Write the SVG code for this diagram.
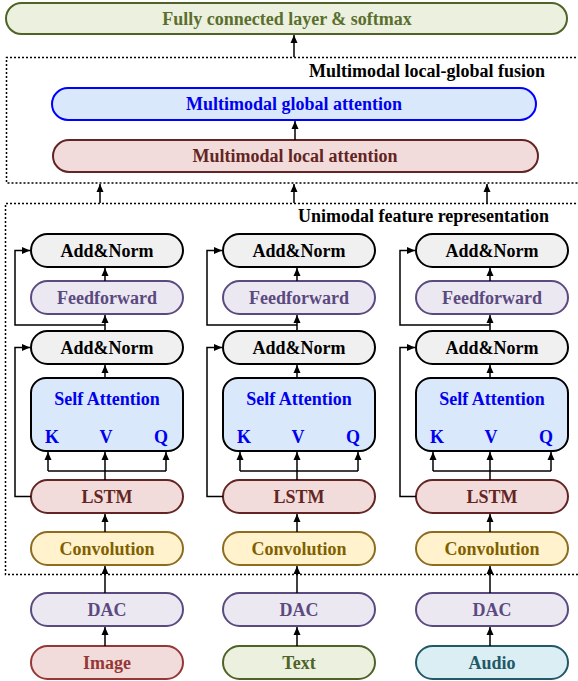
<svg xmlns="http://www.w3.org/2000/svg" width="578" height="681" viewBox="0 0 578 681">
<style>
text{font-family:"Liberation Serif","Times New Roman",serif;font-weight:bold;font-size:18px;text-anchor:middle}
.b{stroke-width:2}
.an{fill:#f0f0f0;stroke:#000}
.ff{fill:#ece8f1;stroke:#5a4a80}
.sa{fill:#dae8fc;stroke:#000}
.ls{fill:#f2dcdb;stroke:#632523}
.cv{fill:#fff2cc;stroke:#8c6d1f}
.im{fill:#f2dcdb;stroke:#953735}
.tx{fill:#ebf1de;stroke:#4f6228}
.au{fill:#daeef3;stroke:#215968}
.tan{fill:#000}.tff{fill:#5a4a80}.tsa{fill:#0000ee}.tls{fill:#632523}.tcv{fill:#7f6000}.tim{fill:#953735}.ttx{fill:#4f6228}.tau{fill:#215968}
.dot{fill:none;stroke:#000;stroke-width:1.5;stroke-dasharray:2 2}
.c{fill:none;stroke:#000;stroke-width:1.5}
.a{marker-end:url(#ah)}
</style>
<defs>
<marker id="ah" markerUnits="userSpaceOnUse" markerWidth="8" markerHeight="8" viewBox="0 0 8 8" refX="8" refY="4" orient="auto">
<path d="M0,0.5 L8,4 L0,7.5 z" fill="#000"/>
</marker>
</defs>

<g id="fusion-frame">
<path class="dot" d="M580,57.5 H6.5 V183 H580"/>
<text x="545" y="77" style="text-anchor:end" fill="#000">Multimodal local-global fusion</text>
</g>
<g id="unimodal-frame">
<path class="dot" d="M580,203.5 H5.5 V574.5 H580"/>
<text x="549" y="222" style="text-anchor:end" fill="#000">Unimodal feature representation</text>
</g>

<g id="fc">
<rect class="b tx" x="6" y="3" width="561" height="31" rx="15.5"/>
<text x="287" y="25" fill="#5b6e2e">Fully connected layer &amp; softmax</text>
</g>
<g id="global">
<rect class="b" x="52" y="88" width="484" height="32" rx="16" fill="#dae8fc" stroke="#0000ff"/>
<text x="294" y="110" fill="#0000ee">Multimodal global attention</text>
</g>
<g id="local">
<rect class="b ls" x="53" y="140" width="485" height="32" rx="16"/>
<text x="295" y="162" class="tls">Multimodal local attention</text>
</g>

<!-- Column 1 -->
<g id="c1-addnorm1"><rect class="b an" x="31" y="234" width="152" height="33" rx="16.5"/><text x="107" y="257" class="tan">Add&amp;Norm</text></g>
<g id="c1-ff"><rect class="b ff" x="31" y="281" width="152" height="33" rx="16.5"/><text x="107" y="304" class="tff">Feedforward</text></g>
<g id="c1-addnorm2"><rect class="b an" x="31" y="331" width="152" height="33" rx="16.5"/><text x="107" y="354" class="tan">Add&amp;Norm</text></g>
<g id="c1-sa"><rect class="b sa" x="31" y="378" width="152" height="73" rx="15"/><text x="107" y="405" class="tsa">Self Attention</text><text x="52" y="443" class="tsa">K</text><text x="106" y="443" class="tsa">V</text><text x="161" y="443" class="tsa">Q</text></g>
<g id="c1-lstm"><rect class="b ls" x="31" y="480" width="152" height="33" rx="16.5"/><text x="107" y="503" class="tls">LSTM</text></g>
<g id="c1-conv"><rect class="b cv" x="31" y="532" width="152" height="33" rx="16.5"/><text x="107" y="555" class="tcv">Convolution</text></g>
<g id="c1-dac"><rect class="b ff" x="31" y="593" width="152" height="33" rx="16.5"/><text x="107" y="616" class="tff">DAC</text></g>
<g id="c1-input"><rect class="b im" x="31" y="646" width="152" height="33" rx="16.5"/><text x="107" y="669" class="tim">Image</text></g>

<!-- Column 2 -->
<g id="c2-addnorm1"><rect class="b an" x="223" y="234" width="152" height="33" rx="16.5"/><text x="299" y="257" class="tan">Add&amp;Norm</text></g>
<g id="c2-ff"><rect class="b ff" x="223" y="281" width="152" height="33" rx="16.5"/><text x="299" y="304" class="tff">Feedforward</text></g>
<g id="c2-addnorm2"><rect class="b an" x="223" y="331" width="152" height="33" rx="16.5"/><text x="299" y="354" class="tan">Add&amp;Norm</text></g>
<g id="c2-sa"><rect class="b sa" x="223" y="378" width="152" height="73" rx="15"/><text x="299" y="405" class="tsa">Self Attention</text><text x="244" y="443" class="tsa">K</text><text x="298" y="443" class="tsa">V</text><text x="353" y="443" class="tsa">Q</text></g>
<g id="c2-lstm"><rect class="b ls" x="223" y="480" width="152" height="33" rx="16.5"/><text x="299" y="503" class="tls">LSTM</text></g>
<g id="c2-conv"><rect class="b cv" x="223" y="532" width="152" height="33" rx="16.5"/><text x="299" y="555" class="tcv">Convolution</text></g>
<g id="c2-dac"><rect class="b ff" x="223" y="593" width="152" height="33" rx="16.5"/><text x="299" y="616" class="tff">DAC</text></g>
<g id="c2-input"><rect class="b tx" x="223" y="646" width="152" height="33" rx="16.5"/><text x="299" y="669" class="ttx">Text</text></g>

<!-- Column 3 -->
<g id="c3-addnorm1"><rect class="b an" x="416" y="234" width="152" height="33" rx="16.5"/><text x="492" y="257" class="tan">Add&amp;Norm</text></g>
<g id="c3-ff"><rect class="b ff" x="416" y="281" width="152" height="33" rx="16.5"/><text x="492" y="304" class="tff">Feedforward</text></g>
<g id="c3-addnorm2"><rect class="b an" x="416" y="331" width="152" height="33" rx="16.5"/><text x="492" y="354" class="tan">Add&amp;Norm</text></g>
<g id="c3-sa"><rect class="b sa" x="416" y="378" width="152" height="73" rx="15"/><text x="492" y="405" class="tsa">Self Attention</text><text x="437" y="443" class="tsa">K</text><text x="491" y="443" class="tsa">V</text><text x="546" y="443" class="tsa">Q</text></g>
<g id="c3-lstm"><rect class="b ls" x="416" y="480" width="152" height="33" rx="16.5"/><text x="492" y="503" class="tls">LSTM</text></g>
<g id="c3-conv"><rect class="b cv" x="416" y="532" width="152" height="33" rx="16.5"/><text x="492" y="555" class="tcv">Convolution</text></g>
<g id="c3-dac"><rect class="b ff" x="416" y="593" width="152" height="33" rx="16.5"/><text x="492" y="616" class="tff">DAC</text></g>
<g id="c3-input"><rect class="b au" x="416" y="646" width="152" height="33" rx="16.5"/><text x="492" y="669" class="tau">Audio</text></g>

<g id="connectors">
<path class="c a" d="M294,57 V35"/>
<path class="c a" d="M295,140 V121"/>
<path class="c a" d="M100,203 V184"/>
<path class="c a" d="M294,203 V184"/>
<path class="c a" d="M487,203 V184"/>

<path class="c a" d="M105,646 V627"/>
<path class="c a" d="M105,593 V566"/>
<path class="c a" d="M105,532 V514"/>
<path class="c a" d="M105,480 V452"/>
<path class="c" d="M48,471 H166"/>
<path class="c a" d="M48,471 V452"/>
<path class="c a" d="M166,471 V452"/>
<path class="c a" d="M105,378 V365"/>
<path class="c a" d="M105,331 V315"/>
<path class="c a" d="M105,281 V268"/>
<path class="c a" d="M31,496.5 H15 V347.5 H30"/>
<path class="c a" d="M105,325 H15 V250.5 H30"/>

<path class="c a" d="M297,646 V627"/>
<path class="c a" d="M297,593 V566"/>
<path class="c a" d="M297,532 V514"/>
<path class="c a" d="M297,480 V452"/>
<path class="c" d="M240,471 H358"/>
<path class="c a" d="M240,471 V452"/>
<path class="c a" d="M358,471 V452"/>
<path class="c a" d="M297,378 V365"/>
<path class="c a" d="M297,331 V315"/>
<path class="c a" d="M297,281 V268"/>
<path class="c a" d="M223,496.5 H207 V347.5 H222"/>
<path class="c a" d="M297,325 H207 V250.5 H222"/>

<path class="c a" d="M490,646 V627"/>
<path class="c a" d="M490,593 V566"/>
<path class="c a" d="M490,532 V514"/>
<path class="c a" d="M490,480 V452"/>
<path class="c" d="M433,471 H551"/>
<path class="c a" d="M433,471 V452"/>
<path class="c a" d="M551,471 V452"/>
<path class="c a" d="M490,378 V365"/>
<path class="c a" d="M490,331 V315"/>
<path class="c a" d="M490,281 V268"/>
<path class="c a" d="M416,496.5 H400 V347.5 H415"/>
<path class="c a" d="M490,325 H400 V250.5 H415"/>
</g>
</svg>
